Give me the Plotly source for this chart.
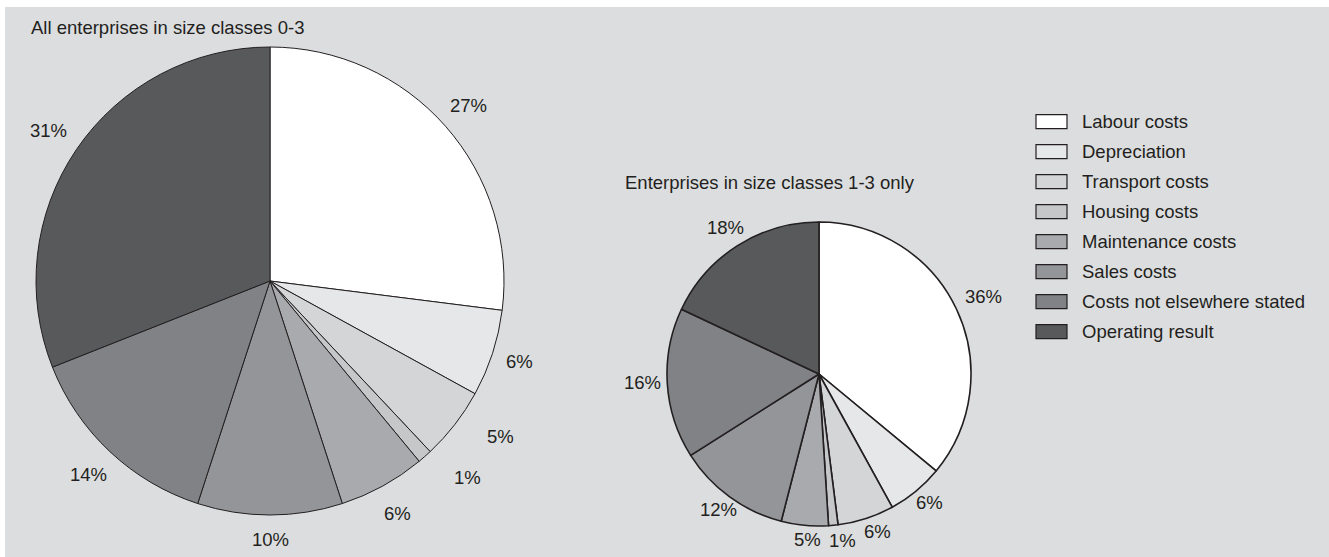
import math
import plotly.graph_objects as go

# Cost components (shares in %)
categories = [
    "Labour costs",
    "Depreciation",
    "Transport costs",
    "Housing costs",
    "Maintenance costs",
    "Sales costs",
    "Costs not elsewhere stated",
    "Operating result",
]
all_classes_0_3 = [27, 6, 5, 1, 6, 10, 14, 31]
classes_1_3_only = [36, 6, 6, 1, 5, 12, 16, 18]

title_all = "All enterprises in size classes 0-3"
title_sub = "Enterprises in size classes 1-3 only"

# Styling
slice_colors = ["#ffffff", "#e6e7e8", "#d4d5d7", "#c6c7c9",
                "#a9aaad", "#939598", "#808285", "#58595b"]
bg_color = "#dcdddf"
ink = "#231f20"
font_family = "Liberation Sans, Arial, sans-serif"
font_size = 18.5

W, H = 1329, 557

# Pie geometry in pixels: centre x, centre y (from top), radius
pies = [
    dict(values=all_classes_0_3, cx=270, cy=281, r=234, lw=1.0,
         label_r=[265, 262, 278, 279, 265, 258, 265, 268],
         label_shift=[0, 0, -3.7, -3.7, 0, 0, 0, 0]),
    dict(values=classes_1_3_only, cx=819, cy=374, r=152, lw=1.6,
         label_r=[182, 170, 168, 168, 166, 169, 177, 174],
         label_shift=[0, -1.1, -2.2, -2.5, -1.3, 0.6, 0.7, 0]),
]

fig = go.Figure()
annotations = []
shapes = [dict(type="rect", xref="paper", yref="paper",
               x0=5 / W, x1=1, y0=0, y1=1 - 7 / H,
               fillcolor=bg_color, line=dict(width=0), layer="below")]

for p in pies:
    fig.add_trace(go.Pie(
        labels=categories,
        values=p["values"],
        sort=False,
        direction="clockwise",
        rotation=0,
        textinfo="none",
        hoverinfo="label+percent",
        marker=dict(colors=slice_colors, line=dict(color=ink, width=p["lw"])),
        domain=dict(x=[(p["cx"] - p["r"]) / W, (p["cx"] + p["r"]) / W],
                    y=[(H - p["cy"] - p["r"]) / H, (H - p["cy"] + p["r"]) / H]),
        showlegend=False,
    ))
    # Percentage labels placed outside each slice along its mid angle
    total = sum(p["values"])
    cum = 0
    for v, lr, sh in zip(p["values"], p["label_r"], p["label_shift"]):
        mid = (cum + v / 2) / total * 360 + sh
        cum += v
        a = math.radians(mid)
        px = p["cx"] + lr * math.sin(a)
        py = p["cy"] - lr * math.cos(a)
        annotations.append(dict(
            x=px / W, y=1 - py / H, xref="paper", yref="paper",
            text=f"{v}%", showarrow=False, xanchor="center", yanchor="middle",
            font=dict(size=font_size, color=ink, family=font_family)))

# Pie titles
annotations.append(dict(x=29 / W, y=1 - 27 / H, xref="paper", yref="paper",
                        text=title_all, showarrow=False, xanchor="left",
                        yanchor="middle",
                        font=dict(size=font_size, color=ink, family=font_family)))
annotations.append(dict(x=623 / W, y=1 - 182 / H, xref="paper", yref="paper",
                        text=title_sub, showarrow=False, xanchor="left",
                        yanchor="middle",
                        font=dict(size=font_size, color=ink, family=font_family)))

# Legend drawn as boxes and labels
leg_x0, leg_y0, leg_step = 1036, 121.7, 30
box_w, box_h = 31, 14
for i, (name, col) in enumerate(zip(categories, slice_colors)):
    yc = leg_y0 + i * leg_step
    shapes.append(dict(type="rect", xref="paper", yref="paper",
                       x0=leg_x0 / W, x1=(leg_x0 + box_w) / W,
                       y0=1 - (yc + box_h / 2) / H, y1=1 - (yc - box_h / 2) / H,
                       fillcolor=col, line=dict(color=ink, width=1.2)))
    annotations.append(dict(x=1080 / W, y=1 - yc / H, xref="paper", yref="paper",
                            text=name, showarrow=False, xanchor="left",
                            yanchor="middle",
                            font=dict(size=font_size, color=ink, family=font_family)))

fig.update_layout(
    width=W, height=H,
    margin=dict(l=0, r=0, t=0, b=0),
    paper_bgcolor="white",
    plot_bgcolor="white",
    shapes=shapes,
    annotations=annotations,
    font=dict(family=font_family, color=ink),
)

fig.write_html("out.html")
